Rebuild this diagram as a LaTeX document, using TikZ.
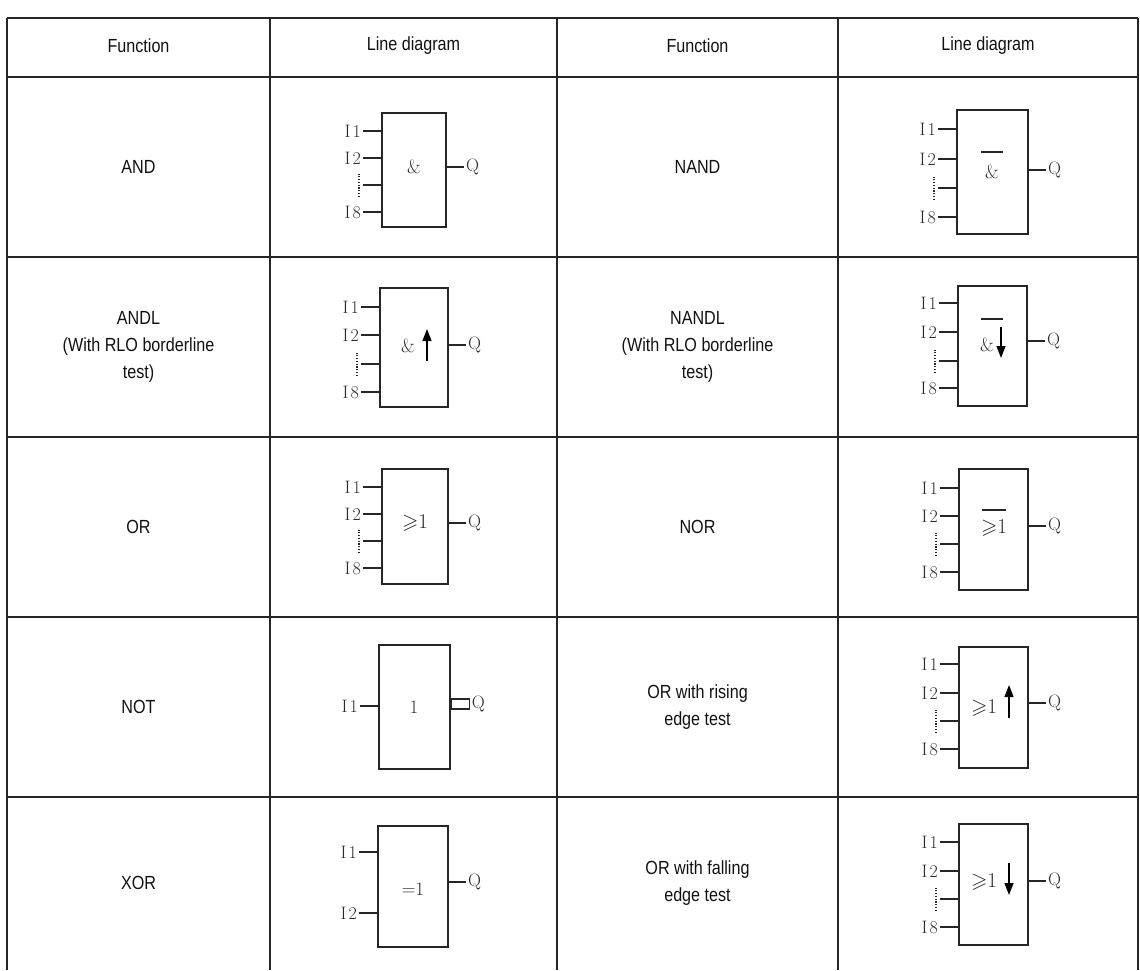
\documentclass[tikz,border=0pt]{standalone}
\usepackage{fontspec}
\usepackage{amssymb}
\newfontfamily\sansf[FakeStretch=0.85]{Liberation Sans}
\usetikzlibrary{arrows.meta}
\definecolor{ln}{HTML}{262626}
\definecolor{tx}{HTML}{111111}
\definecolor{gt}{HTML}{2A2A2A}
\tikzset{
  tbl/.style={line width=1.5pt, draw=ln},
  gbox/.style={draw=ln, line width=1.1pt, inner sep=0pt, rectangle},
  wire/.style={draw=ln, line width=1.1pt},
  dotwire/.style={draw=ln, line width=1.2pt, dash pattern=on 1.2pt off 1.6pt},
  lbl/.style={font=\fontsize{18}{18}\selectfont, text=gt, inner sep=2pt},
  cell/.style={font=\sansf\fontsize{19}{27}\selectfont, align=center, text=tx},
  glyph/.style={font=\fontsize{19}{19}\selectfont, text=gt, inner sep=0pt},
  glyphb/.style={font=\fontsize{21}{21}\selectfont, text=gt, inner sep=0pt},
  edgearrow/.style={line width=1.3pt, draw=black, -{Triangle[width=9pt,length=12pt]}},
}
\newcommand\gbx[5]{\node[gbox, minimum width=#4-#2, minimum height=#5-#3] (#1) at ({(#2+#4)/2},{(#3+#5)/2}) {};}
\newcommand\inp[5]{%
  \node[lbl, anchor=east] (#1) at ({#3-19},#4) {#5};
  \draw[wire] (#1.east) -- (#1.east -| #2.west);}
\newcommand\dinp[4]{%
  \coordinate (#1) at ({#3-19},#4);
  \draw[wire] (#1) -- (#1 -| #2.west);
  \draw[dotwire] ([xshift=-4pt,yshift=-12pt]#1) -- ([xshift=-4pt,yshift=11pt]#1);}
\newcommand\outq[4]{%
  \node[lbl, anchor=west] (#1) at ({#3+18},#4) {Q};
  \draw[wire] (#1.west -| #2.east) -- (#1.west);}
\newcommand\four[7]{% gate L y1 y2 y3 y4 prefix
  \inp{#7a}{#1}{#2}{#3}{I\kern2pt 1}
  \inp{#7b}{#1}{#2}{#4}{I\kern2pt 2}
  \dinp{#7c}{#1}{#2}{#5}
  \inp{#7d}{#1}{#2}{#6}{I\kern2pt 8}}
\begin{document}
\begin{tikzpicture}[x=1pt,y=-1pt]
\useasboundingbox (0,0) rectangle (1140,970);
% table grid
\foreach \yy in {18,77,257,437,617,797} \draw[tbl] (7,\yy) -- (1138,\yy);
\foreach \xx in {7,270,557,838,1138} \draw[tbl] (\xx,18) -- (\xx,970);
% header
\node[cell] (h1) at (138.5,46) {Function};
\node[cell] (h2) at (413.5,46) {Line diagram};
\node[cell] (h3) at (697.5,46) {Function};
\node[cell] (h4) at (988,46) {Line diagram};
% function texts
\node[cell] (f1) at (138.5,167) {AND};
\node[cell] (f2) at (697.5,167) {NAND};
\node[cell] (f3) at (138.5,347) {ANDL\\(With RLO borderline\\test)};
\node[cell] (f4) at (697.5,347) {NANDL\\(With RLO borderline\\test)};
\node[cell] (f5) at (138.5,527) {OR};
\node[cell] (f6) at (697.5,527) {NOR};
\node[cell] (f7) at (138.5,707) {NOT};
\node[cell] (f8) at (697.5,707) {OR with rising\\edge test};
\node[cell] (f9) at (138.5,883) {XOR};
\node[cell] (f10) at (697.5,883) {OR with falling\\edge test};
% ---- AND
\gbx{g1}{382}{113}{446}{227}
\four{g1}{382}{131}{158}{185}{212}{g1i}
\outq{g1q}{g1}{446}{167}
\node[glyph] (g1t) at (414,167) {\&};
% ---- NAND
\gbx{g2}{957}{110}{1028}{234}
\four{g2}{957}{129}{159}{188}{217}{g2i}
\outq{g2q}{g2}{1028}{170}
\node[glyph] (g2t) at (992,172) {\&};
\coordinate (g2b1) at (981,152); \coordinate (g2b2) at (1003,152);
\draw[wire] (g2b1) -- (g2b2);
% ---- ANDL
\gbx{g3}{380}{288}{448}{407}
\four{g3}{380}{307}{335}{364}{392}{g3i}
\outq{g3q}{g3}{448}{345}
\node[glyph] (g3t) at (408,346) {\&};
\coordinate (g3s) at (427,361); \coordinate (g3e) at (427,329);
\draw[edgearrow] (g3s) -- (g3e);
% ---- NANDL
\gbx{g4}{958}{286}{1027}{406}
\four{g4}{958}{303}{332}{361}{388}{g4i}
\outq{g4q}{g4}{1027}{341}
\node[glyph] (g4t) at (987,345) {\&};
\coordinate (g4b1) at (981,319); \coordinate (g4b2) at (1003,319);
\draw[wire] (g4b1) -- (g4b2);
\coordinate (g4s) at (1001,327); \coordinate (g4e) at (1001,358);
\draw[edgearrow] (g4s) -- (g4e);
% ---- OR
\gbx{g5}{382}{469}{448}{584}
\four{g5}{382}{487}{514}{541}{568}{g5i}
\outq{g5q}{g5}{448}{523}
\node[glyphb] (g5t) at (415,523) {$\geqslant$1};
% ---- NOR
\gbx{g6}{959}{469}{1028}{590}
\four{g6}{959}{488}{516}{544}{572}{g6i}
\outq{g6q}{g6}{1028}{526}
\node[glyphb] (g6t) at (994,528) {$\geqslant$1};
\coordinate (g6b1) at (982,510); \coordinate (g6b2) at (1006,510);
\draw[wire] (g6b1) -- (g6b2);
% ---- NOT
\gbx{g7}{379}{645}{450}{769}
\inp{g7a}{g7}{379}{706}{I\kern2pt 1}
\node[glyph] (g7t) at (414,707) {1};
\node[gbox, minimum width=18, minimum height=10, anchor=west] (g7n) at (g7.east |- 0,704) {};
\node[lbl, anchor=west] (g7q) at (g7n.east) {Q};
% ---- OR rising
\gbx{g8}{959}{647}{1028}{768}
\four{g8}{959}{664}{693}{721}{749}{g8i}
\outq{g8q}{g8}{1028}{703}
\node[glyphb] (g8t) at (984,708) {$\geqslant$1};
\coordinate (g8s) at (1009,718); \coordinate (g8e) at (1009,685);
\draw[edgearrow] (g8s) -- (g8e);
% ---- XOR
\gbx{g9}{378}{826}{448}{947}
\inp{g9a}{g9}{378}{852}{I\kern2pt 1}
\inp{g9b}{g9}{378}{913}{I\kern2pt 2}
\outq{g9q}{g9}{448}{882}
\node[glyph] (g9t) at (413,889) {=1};
% ---- OR falling
\gbx{g10}{959}{824}{1028}{945}
\four{g10}{959}{842}{871}{899}{927}{g10i}
\outq{g10q}{g10}{1028}{881}
\node[glyphb] (g10t) at (984,882) {$\geqslant$1};
\coordinate (g10s) at (1009,863); \coordinate (g10e) at (1009,895);
\draw[edgearrow] (g10s) -- (g10e);
\end{tikzpicture}
\end{document}
